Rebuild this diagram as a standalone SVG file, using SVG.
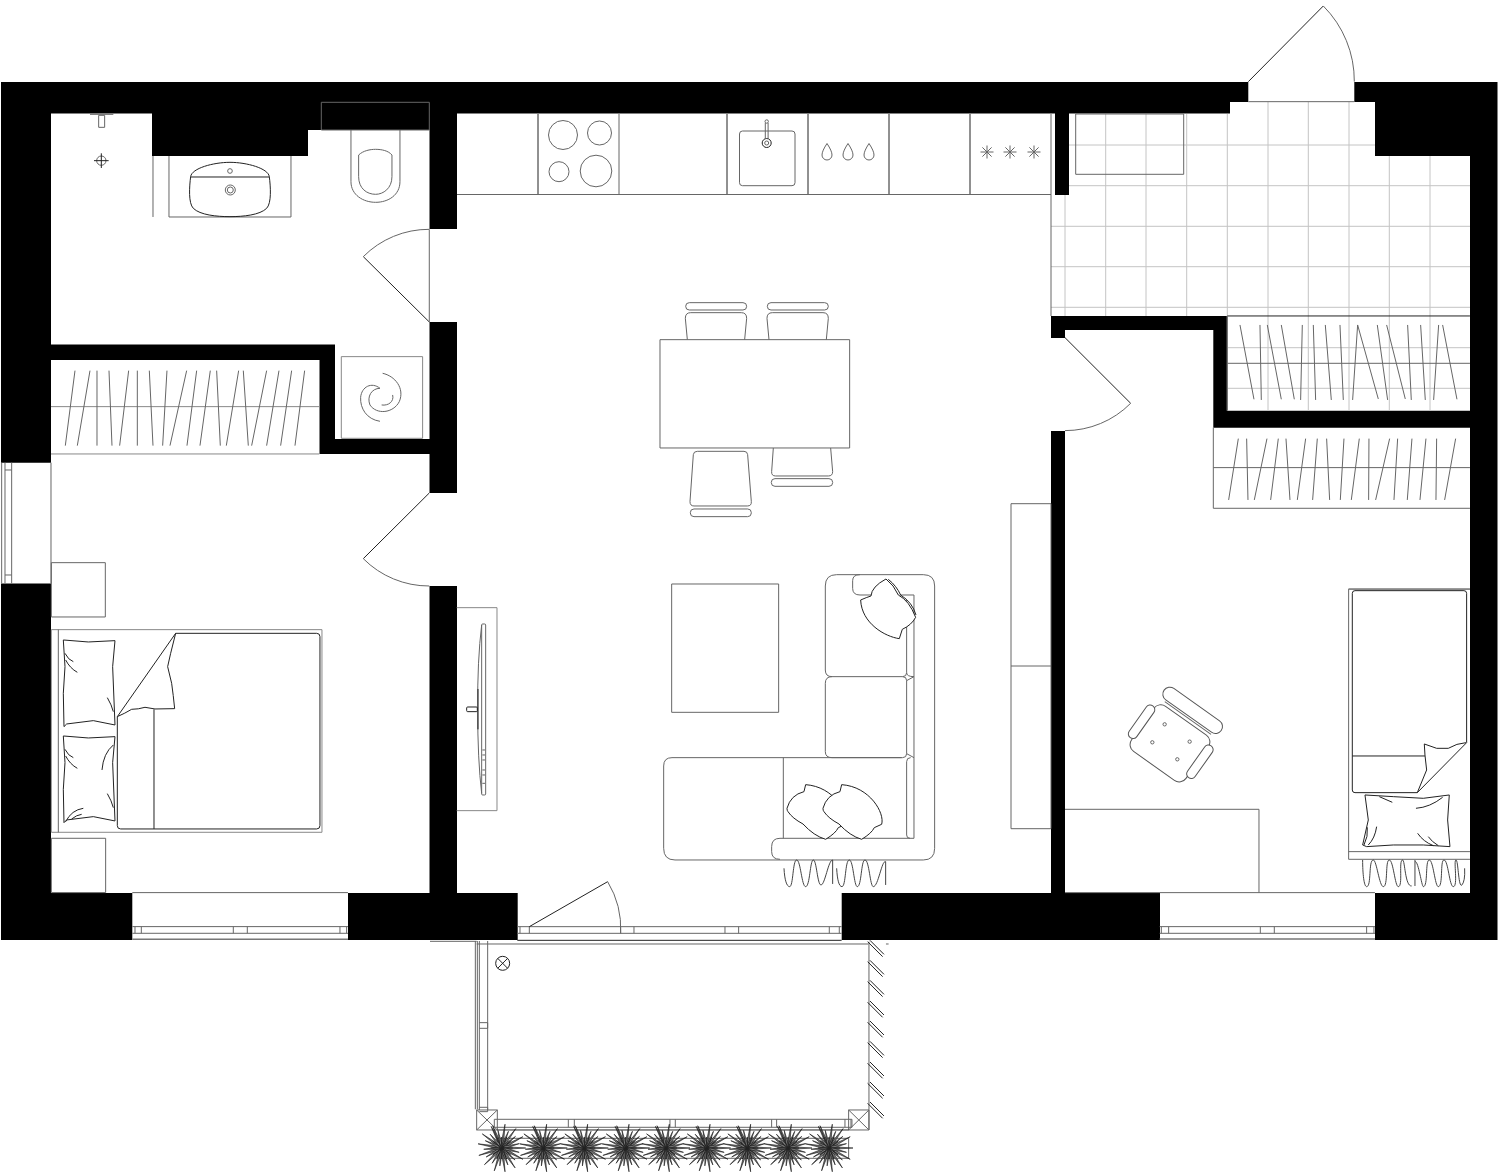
<svg xmlns="http://www.w3.org/2000/svg" width="1500" height="1172" viewBox="0 0 1500 1172">
<style>
path,rect,circle,ellipse,line{vector-effect:non-scaling-stroke}
.l{fill:none;stroke:#666;stroke-width:1}
.w{fill:#fff;stroke:#555;stroke-width:1}
.d{fill:none;stroke:#222;stroke-width:1}
.dw{fill:#fff;stroke:#222;stroke-width:1}
.g{fill:none;stroke:#c4c4c4;stroke-width:1}
.t{fill:none;stroke:#888;stroke-width:1}
.s{fill:#777;stroke:#111;stroke-width:.6}
.f{fill:none;stroke:#444;stroke-width:1}
</style>
<defs>
<path id="sp" class="s" d="M-1.500,0L0,-24L1.500,0Z"/>
<path id="sq" class="s" d="M-1.500,0L0,-18L1.500,0Z"/>
<g id="plant">
<use href="#sp" transform="rotate(8)"/><use href="#sp" transform="rotate(36)"/><use href="#sp" transform="rotate(62)"/><use href="#sp" transform="rotate(90)"/><use href="#sp" transform="rotate(118)"/><use href="#sp" transform="rotate(146)"/><use href="#sp" transform="rotate(172)"/><use href="#sp" transform="rotate(198)"/><use href="#sp" transform="rotate(226)"/><use href="#sp" transform="rotate(252)"/><use href="#sp" transform="rotate(280)"/><use href="#sp" transform="rotate(306)"/><use href="#sp" transform="rotate(334)"/><use href="#sp" transform="rotate(-22)"/>
<use href="#sq" transform="rotate(22)"/><use href="#sq" transform="rotate(50)"/><use href="#sq" transform="rotate(76)"/><use href="#sq" transform="rotate(104)"/><use href="#sq" transform="rotate(132)"/><use href="#sq" transform="rotate(160)"/><use href="#sq" transform="rotate(186)"/><use href="#sq" transform="rotate(212)"/><use href="#sq" transform="rotate(240)"/><use href="#sq" transform="rotate(266)"/><use href="#sq" transform="rotate(294)"/><use href="#sq" transform="rotate(320)"/><use href="#sq" transform="rotate(348)"/>
<path class="d" d="M-9,-7L9,7M-9,7L9,-7M-11,0H11M0,-11V11M-5,-11L5,11M5,-11L-5,11"/>
</g>
<g id="slat"><path class="d" d="M0,0L45,45M7,-4L49,38"/></g>
<path id="cush" class="dw" d="M605,674L600,695Q560,705 549,745Q549,752 552,755Q565,775 597,792Q630,828 665,838Q695,820 703,803L725,793C735,760 690,680 605,674Z"/>
<path id="drop" class="l" d="M0,-8.500Q5,-1 5,3A5,5 0 0 1 -5,3Q-5,-1 0,-8.500Z"/>
<path id="star" class="l" d="M-6.500,0H6.500M0,-6.500V6.500M-4.600,-4.600L4.600,4.600M-4.600,4.600L4.600,-4.600"/>
</defs>

<g id="walls">
<rect x="1" y="82" width="1496.500" height="858" fill="#000"/>
<path fill="#fff" d="M51,113.500H152V156H308V130H429.500V439H335V344.500H51Z
M51,360H319.500V454H51Z
M51,454H429.500V893H51Z
M1,462.700H51V583.500H1Z
M429,229H457.500V322H429Z
M429,493H457.500V586H429Z
M132.300,893H348V940H132.300Z
M457,113.500H1055V195H1069V113.500H1230V102H1248.300V82H1354.300V102H1375V156H1470V316H1051V893H457Z
M1227.300,316H1470V410.700H1227.300Z
M1050,338H1065.500V431H1050Z
M1065,330H1213.300V427.700H1470V893H1065Z
M1160,893H1375V940H1160Z
M517.700,893H841.700V940H517.700Z"/>
<rect class="l" x="321.300" y="102.300" width="108" height="27.700"/>
</g>

<g id="hall-tiles">
<path class="g" d="M1065,195V316M1105.700,114V316M1146,114V316M1186.700,114V316M1227.300,114V410.700M1268,102V410.700M1308.300,102V410.700M1349,102V410.700M1389.300,156V410.700M1430,156V410.700"/>
<path class="g" d="M1069,145H1375M1069,185.700H1470M1051,226.300H1470M1051,266.700H1470M1051,307.300H1470M1227.300,347.700H1470M1227.300,388.300H1470"/>
</g>

<g id="bathroom" transform="translate(0,80) scale(.3333)">
<path class="l" d="M270,103H340M296,106H314V142H296Z"/>
<circle class="l" cx="304" cy="242" r="14"/><path class="d" d="M282,242H326M304,220V264"/>
<path class="l" d="M459,228V411M507,228V411H873V228"/>
<path class="d" d="M572,290C575,265 640,247 690,247C740,247 805,265 808,290C812,320 815,370 800,385C780,405 730,410 690,410C650,410 600,405 580,385C565,370 568,320 572,290ZM572,291H808"/>
<circle class="l" cx="690" cy="273" r="7"/><circle class="l" cx="691" cy="330" r="15"/><circle class="l" cx="691" cy="330" r="9"/>
<path class="l" d="M1053,150V305C1053,345 1090,367 1127,367C1165,367 1200,345 1200,305V150M1076,225C1090,212 1110,208 1127,208C1145,208 1165,212 1176,225V290C1176,325 1150,343 1127,343C1100,343 1076,325 1076,290Z"/>
<rect class="t" x="1024" y="830" width="244" height="245"/>
<path class="l" d="M1140,1024C1100,1018 1080,985 1082,952C1085,920 1115,905 1140,925C1115,925 1100,950 1110,975C1130,1005 1180,1000 1198,965C1215,925 1185,888 1148,880M1145,975C1165,978 1183,965 1178,945"/>
<path class="d" d="M1288,726L1090,530"/>
<path class="l" d="M1090,530A278,278 0 0 1 1288,448V726"/>
</g>

<g id="closet-a" transform="translate(0,80) scale(.3333)">
<path class="t" d="M153,980H958M153,1122H958"/>
<path class="l" d="M225,872L196,1097M270,872L232,1097M291,872V1097M327,872L336,1097M386,872L359,1097M412,872V1097M448,872L459,1097M501,872L488,1097M560,872L510,1097M590,872L561,1097M631,872L600,1097M650,872L661,1097M716,872L679,1097M730,872L745,1097M800,872L755,1097M837,872L800,1097M875,872L842,1097M914,872L885,1097"/>
</g>

<g id="bedroom" transform="translate(0,460) scale(.3333)">
<path class="l" d="M5,8V370M15,8V370M35,8V370M15,30H35M15,345H35M153,8V370"/>
<rect class="l" x="154" y="308" width="162" height="163"/>
<rect class="l" x="154" y="1135" width="163" height="163"/>
<rect class="t" x="154" y="509" width="812" height="608"/>
<path class="l" d="M175,509V1117"/>
<path class="d" d="M527,520H950Q960,520 960,530V1097Q960,1107 950,1107H362Q352,1107 352,1097V770ZM462,748V1107"/>
<path class="d" d="M352,770Q375,760 395,748Q415,748 435,742L465,747L524,746Q520,705 515,670L503,620L512,580L527,520"/>
<path class="d" d="M190,540L265,546L345,542L338,620L345,795L280,782L200,792L192,800L190,700L195,620ZM195,580Q205,600 220,605M197,600Q210,625 232,637M322,713Q335,735 340,755"/>
<path class="d" d="M190,828L265,834L345,830L338,908L345,1083L280,1070L200,1080L192,1088L190,988L195,908ZM195,868Q205,888 220,893M197,888Q210,913 232,925M322,1001Q335,1023 340,1043M340,855Q310,880 306,930M197,1085Q215,1050 250,1045M215,1077Q230,1065 245,1063"/>
<path class="l" d="M397,1400H1044M397,1420H1044M405,1400V1420M424,1400V1420M700,1400V1420M742,1400V1420M1020,1400V1420M1040,1400V1420"/>
<path class="l" d="M397,1298H1044"/>
<path stroke="#777" stroke-width="1.500" fill="none" d="M397,1438H1044"/>
<path class="d" d="M1288,99L1090,296"/>
<path class="l" d="M1090,296A278,278 0 0 0 1288,378"/>
</g>

<g id="kitchen">
<path class="l" d="M457,194.500H1051M1051,114V316"/>
<path class="d" d="M538,114V194M727,114V194M808,114V194M889,114V194M970,114V194"/>
<path class="l" d="M619,114V194"/>
<circle class="l" cx="563" cy="135" r="14.500"/><circle class="l" cx="599.500" cy="133" r="12"/><circle class="l" cx="559" cy="171.700" r="10"/><circle class="l" cx="596" cy="171" r="15.800"/>
<rect class="l" x="739.500" y="131" width="55.500" height="54.700" rx="3"/>
<circle class="d" cx="766.700" cy="143" r="4.500"/><circle class="l" cx="766.700" cy="143" r="2"/>
<circle class="l" cx="766.700" cy="121.500" r="1.700"/><path class="l" d="M765.300,123V139M768.100,123V139"/>
<use href="#drop" x="827" y="152"/><use href="#drop" x="848" y="152"/><use href="#drop" x="869" y="152"/>
<use href="#star" x="987" y="152"/><use href="#star" x="1010" y="152"/><use href="#star" x="1034" y="152"/>
<rect class="l" x="1075.700" y="114" width="108" height="60.300"/>
</g>

<g id="dining" transform="translate(640,290) scale(.3333)">
<rect class="l" x="60" y="149" width="569" height="325"/>
<path class="l" d="M142,149L136,85Q136,68 152,68H304Q320,68 320,85L314,149"/><rect class="l" x="137" y="38" width="183" height="22" rx="11"/>
<path class="l" d="M387,149L381,85Q381,68 397,68H549Q565,68 565,85L559,149"/><rect class="l" x="382" y="38" width="183" height="22" rx="11"/>
<path class="l" d="M172,484H312Q322,484 323,494L334,635Q335,648 322,648H162Q150,648 150,635L160,494Q161,484 172,484Z"/><rect class="l" x="151" y="657" width="183" height="23" rx="11"/>
<path class="l" d="M400,474L395,545Q394,558 407,558H565Q578,558 578,545L572,474"/><rect class="l" x="394" y="566" width="184" height="23" rx="11"/>
</g>

<g id="tv" transform="translate(440,590) scale(.3333)">
<path class="t" d="M50,53H171V662H50"/>
<rect class="l" x="125" y="102" width="12" height="513" rx="3"/>
<path class="l" d="M125,105Q112,210 113,360Q113,510 125,610"/>
<rect x="111" y="297" width="5" height="121" fill="#555"/>
<rect class="d" x="80" y="351" width="32" height="14" rx="3"/>
<path class="l" d="M127,480H135M127,495H135M127,510H135M127,540H135M127,555H135M127,580H135"/>
</g>

<g id="living" transform="translate(640,560) scale(.3333)">
<rect class="l" x="95" y="72" width="321" height="385"/>
<path class="l" d="M590,44H850Q884,44 884,78V865Q884,900 850,900H105Q71,900 71,865V618Q71,593 96,593H785"/>
<path class="l" d="M590,44Q556,44 556,78V330Q556,350 576,350H788Q800,350 800,338V120M576,350Q556,350 556,370V575Q556,593 576,593H788Q800,593 800,581V362Q800,350 788,350"/>
<path class="l" d="M800,605Q800,593 812,593M800,338Q800,350 822,350M822,105V835M800,605V825Q800,835 810,835M800,362L822,350M800,581L822,593"/>
<path class="l" d="M660,44Q638,44 638,62V85Q638,105 660,105H695M780,105H822M822,835H420Q395,835 395,860V875Q395,898 420,898M430,593V835"/>
<path class="dw" d="M662,120Q680,112 693,108Q695,80 738,57Q762,75 775,105Q808,122 827,172Q815,195 787,208L778,236C735,230 665,190 662,120Z"/>
<path class="d" d="M745,58Q770,78 782,105Q818,128 828,165"/>
<use href="#cush" x="-108"/><use href="#cush"/>
<path class="f" d="M432,925C434,960 440,980 449,980C460,980 458,900 470,900C482,900 485,980 497,980C510,980 510,900 520,900C530,900 532,975 543,975C555,975 565,900 578,900V972M590,925C592,960 597,980 606,980C618,980 615,900 628,900C640,900 642,980 652,980C665,980 663,900 675,900C688,900 690,980 700,980C715,980 725,900 737,905V975"/>
</g>

<g id="storage"><rect class="l" x="1011" y="503.700" width="40" height="325"/><path class="l" d="M1011,666H1051"/></g>

<g id="hall-door" transform="translate(1040,0) scale(.3333)">
<path class="d" d="M625,245L850,18M75,1013L272,1210"/>
<path class="l" d="M850,18A318,318 0 0 1 943,245M625,305H943M272,1210A278,278 0 0 1 75,1292"/>
</g>

<g id="closets-right" transform="translate(1040,0) scale(.3333)">
<path class="d" d="M562,948H1290"/>
<path class="l" d="M562,1090H1290M562,948V1232M520,1403H1290M520,1283V1525H1290"/>
<path class="l" d="M600,975L642,1198M660,975L664,1200M682,975L724,1198M724,975L763,1198M787,975L782,1200M820,975L827,1200M856,975L874,1200M900,975L910,1200M953,975L938,1200M953,975L1015,1197M1012,975L1043,1200M1040,975L1096,1197M1103,975L1114,1200M1142,975L1156,1200M1196,975L1181,1200M1208,975L1251,1198"/>
<path class="l" d="M595,1316L566,1500M620,1316L624,1500M681,1316L643,1500M715,1316L692,1500M738,1316L750,1500M797,1316L772,1500M832,1316L818,1500M860,1316L869,1500M912,1316L901,1500M958,1316L934,1500M987,1316L986,1500M1049,1316L1007,1500M1073,1316L1062,1500M1116,1316L1102,1500M1158,1316L1140,1500M1190,1316L1188,1500M1247,1316L1214,1500"/>
</g>

<g id="bedroom-right" transform="translate(1060,580) scale(.3333)">
<path class="l" d="M15,688H597V938"/>
<path class="l" d="M15,938H945"/>
<g transform="rotate(35.300 330 490)">
<rect class="w" x="230" y="407" width="200" height="166" rx="25"/>
<path class="l" d="M245,397H415"/>
</g>
<rect class="w" x="293" y="370" width="210" height="42" rx="21" transform="rotate(35.300 398 391)"/>
<rect class="w" x="231" y="367" width="28" height="117" rx="14" transform="rotate(35.300 245 425)"/>
<rect class="w" x="406" y="487" width="28" height="117" rx="14" transform="rotate(35.300 420 545)"/>
<circle class="l" cx="314" cy="433" r="5"/><circle class="l" cx="277" cy="487" r="5"/><circle class="l" cx="389" cy="485" r="5"/><circle class="l" cx="352" cy="538" r="5"/>
<path class="l" d="M866,838V27H1230M866,815H1230M866,838H1230"/>
<path stroke="#888" stroke-width="1.500" fill="none" d="M866,28H1230"/>
<path class="d" d="M1072,638H885Q877,638 877,630V40Q877,32 885,32H1212Q1220,32 1220,40V488L1072,638ZM877,528H1095"/>
<path class="d" d="M1218,488Q1190,490 1165,505L1130,505L1093,492L1095,525L1100,570L1072,638"/>
<path class="d" d="M915,645L1000,650L1090,655L1168,645L1163,720L1170,800L1090,795L1000,795L920,800L908,795L925,720ZM958,650L997,667M1068,685Q1110,682 1148,652M922,742Q925,770 912,795M950,740Q945,775 925,795M1073,760Q1090,785 1120,797M1105,770Q1115,785 1135,797"/>
<path class="f" d="M908,840C908,880 912,920 920,920C935,920 925,840 940,840C950,840 958,920 970,920C985,920 975,840 988,840C1000,840 1005,920 1015,920C1030,920 1015,840 1028,840C1035,840 1035,920 1055,918M1065,840V918M1065,845C1075,840 1085,920 1090,920C1105,920 1095,840 1108,840C1120,840 1125,920 1135,920C1150,920 1140,840 1152,840C1165,840 1168,920 1180,920C1195,920 1180,840 1188,840C1195,840 1195,920 1205,916Q1216,905 1214,865"/>
<path class="l" d="M299,1040H945M299,1060H945M304,1040V1060M326,1040V1060M601,1040V1060M643,1040V1060M920,1040V1060M942,1040V1060"/>
<path stroke="#777" stroke-width="1.500" fill="none" d="M299,1077H945"/>
</g>

<g id="balcony" transform="translate(440,880) scale(.3333)">
<path class="l" d="M232,140H1205M232,160H1205M240,140V160M268,140V160M542,140V160M582,140V160M855,140V160M896,140V160M1168,140V160M1198,140V160"/>
<path class="d" d="M232,181H1205"/>
<path class="l" d="M-30,184H110M110,192H1285M1338,192H1346"/>
<path class="d" d="M268,140L503,5"/>
<path class="l" d="M503,5A272,272 0 0 1 542,160"/>
<path class="l" d="M106,183V688M112,183V688M118,183V690M143,183V690M118,428H143V445H118M118,682H143V695H118"/>
<circle class="d" cx="188" cy="250" r="21"/><path class="d" d="M173,235L203,265M173,265L203,235"/>
<path class="l" d="M1287,185V750"/>
<path class="l" d="M110,690H172V750H110ZM110,690L172,750M172,690L110,750M1226,690H1287V750H1226ZM1226,690L1287,750M1287,690L1226,750"/>
<path class="l" d="M163,718H1236V742H163ZM385,718V742M403,718V742M690,718V742M706,718V742M995,718V742M1010,718V742M1215,718V742M1233,718V742"/>
<path class="d" d="M172,750H1226"/>
<path class="l" d="M175,775H1226V835H175"/>
<use href="#slat" x="1283" y="185"/><use href="#slat" x="1283" y="245"/><use href="#slat" x="1283" y="305"/><use href="#slat" x="1283" y="367"/><use href="#slat" x="1283" y="427"/><use href="#slat" x="1283" y="488"/><use href="#slat" x="1283" y="550"/><use href="#slat" x="1283" y="610"/><use href="#slat" x="1283" y="670"/>
</g>
<g id="plants">
<use href="#plant" x="501.700" y="1148"/><use href="#plant" x="543.300" y="1148"/><use href="#plant" x="584.300" y="1148"/><use href="#plant" x="625.700" y="1148"/><use href="#plant" x="666" y="1148"/><use href="#plant" x="706.700" y="1148"/><use href="#plant" x="747.300" y="1148"/><use href="#plant" x="788" y="1148"/><use href="#plant" x="829" y="1148"/>
</g>
</svg>
